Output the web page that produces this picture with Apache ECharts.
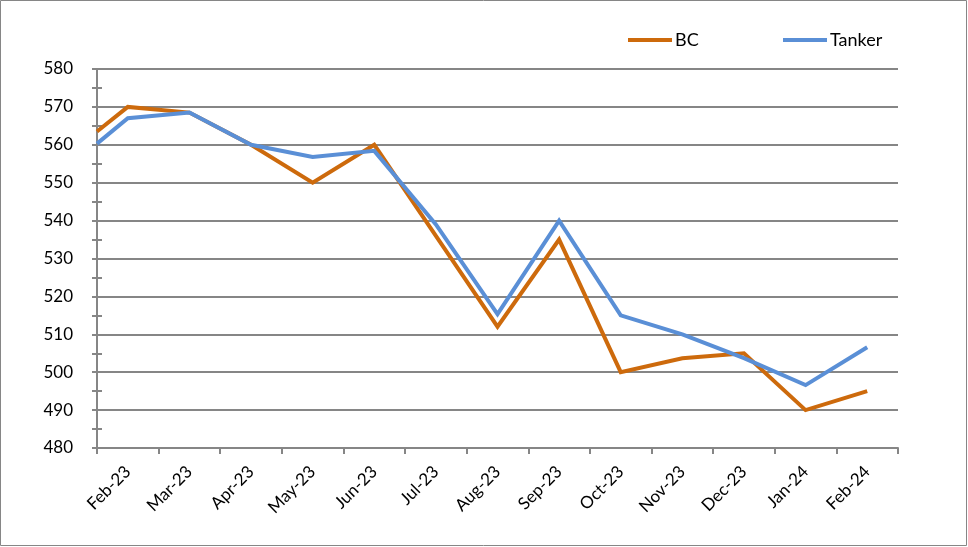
<!DOCTYPE html>
<html>
<head>
<meta charset="utf-8">
<script src="https://cdn.jsdelivr.net/npm/echarts@6/dist/echarts.min.js"></script>
<style>
html,body{margin:0;padding:0;background:#fff;}
#chart{width:968px;height:547px;}
</style>
</head>
<body>
<div id="chart"></div>
<script>
// Data
const categories = ['Feb-23','Mar-23','Apr-23','May-23','Jun-23','Jul-23','Aug-23','Sep-23','Oct-23','Nov-23','Dec-23','Jan-24','Feb-24'];
// value at the left edge of the plot (start of period)
const bcStart = 563.5;
const tankerStart = 560.3;
// values at each month
const bcValues = [570, 568.5, 560, 550, 560, 536, 512, 535, 500, 503.7, 505, 490, 495];
const tankerValues = [567, 568.5, 560, 556.8, 558.4, 539, 515.3, 540, 515, 510, 503.7, 496.6, 506.6];
const yTicks = {min: 480, max: 580, interval: 10};

function toPoints(start, vals) {
  const pts = [[-0.5, start]];
  vals.forEach((v, i) => pts.push([i, v]));
  return pts;
}

const FONT = 'Lato';
const GRAY = '#868686';
const chart = echarts.init(document.getElementById('chart'));
chart.setOption({
  animation: false,
  backgroundColor: '#ffffff',
  textStyle: {fontFamily: FONT},
  grid: {left: 97, right: 70, top: 69, bottom: 99, containLabel: false},
  legend: [
    {
      data: ['BC'], left: 628, top: 31, padding: 0, itemWidth: 44, itemHeight: 4, icon: 'rect',
      textStyle: {fontFamily: FONT, fontSize: 18, color: '#000', padding: [0, 0, 0, -2]}
    },
    {
      data: ['Tanker'], left: 783, top: 31, padding: 0, itemWidth: 44, itemHeight: 4, icon: 'rect',
      textStyle: {fontFamily: FONT, fontSize: 18, color: '#000', padding: [0, 0, 0, -2]}
    }
  ],
  graphic: [{
    type: 'rect', silent: true, z: -1,
    shape: {x: 0.5, y: 0.5, width: 966, height: 545},
    style: {fill: 'none', stroke: GRAY, lineWidth: 1}
  }],
  xAxis: [
    {
      type: 'category', data: categories, boundaryGap: true,
      axisLine: {show: true, onZero: false, lineStyle: {color: GRAY, width: 2}},
      axisTick: {show: true, length: 6, interval: 0, lineStyle: {color: GRAY, width: 2}},
      axisLabel: {interval: 0, rotate: 45, margin: 21, fontSize: 17, color: '#000', fontFamily: FONT},
      splitLine: {show: false}
    },
    {
      type: 'value', min: -0.5, max: 12.5, show: false
    }
  ],
  yAxis: [
    {
      type: 'value', min: yTicks.min, max: yTicks.max, interval: yTicks.interval,
      axisLine: {show: true, onZero: false, lineStyle: {color: GRAY, width: 2}},
      axisTick: {show: true, length: 5, lineStyle: {color: GRAY, width: 2}},
      minorTick: {show: true, splitNumber: 2, length: 5, lineStyle: {color: GRAY, width: 2}},
      axisLabel: {margin: 24, fontSize: 17, color: '#000', fontFamily: FONT},
      splitLine: {show: true, lineStyle: {color: GRAY, width: 2}}
    },
    {
      type: 'value', min: yTicks.min, max: yTicks.max, interval: yTicks.interval, position: 'left',
      axisLine: {show: false, onZero: false},
      axisTick: {show: false, inside: true},
      minorTick: {show: true, splitNumber: 2, length: 5, lineStyle: {color: GRAY, width: 2}},
      axisLabel: {show: false},
      splitLine: {show: false}
    }
  ],
  series: [
    {
      name: 'BC', type: 'line', xAxisIndex: 1, yAxisIndex: 0,
      data: toPoints(bcStart, bcValues),
      showSymbol: false, symbol: 'none',
      lineStyle: {color: '#CD6A0C', width: 4, join: 'miter'},
      itemStyle: {color: '#CD6A0C'}
    },
    {
      name: 'Tanker', type: 'line', xAxisIndex: 1, yAxisIndex: 0,
      data: toPoints(tankerStart, tankerValues),
      showSymbol: false, symbol: 'none',
      lineStyle: {color: '#5A8FD6', width: 4, join: 'miter'},
      itemStyle: {color: '#5A8FD6'}
    }
  ]
});
</script>
</body>
</html>
